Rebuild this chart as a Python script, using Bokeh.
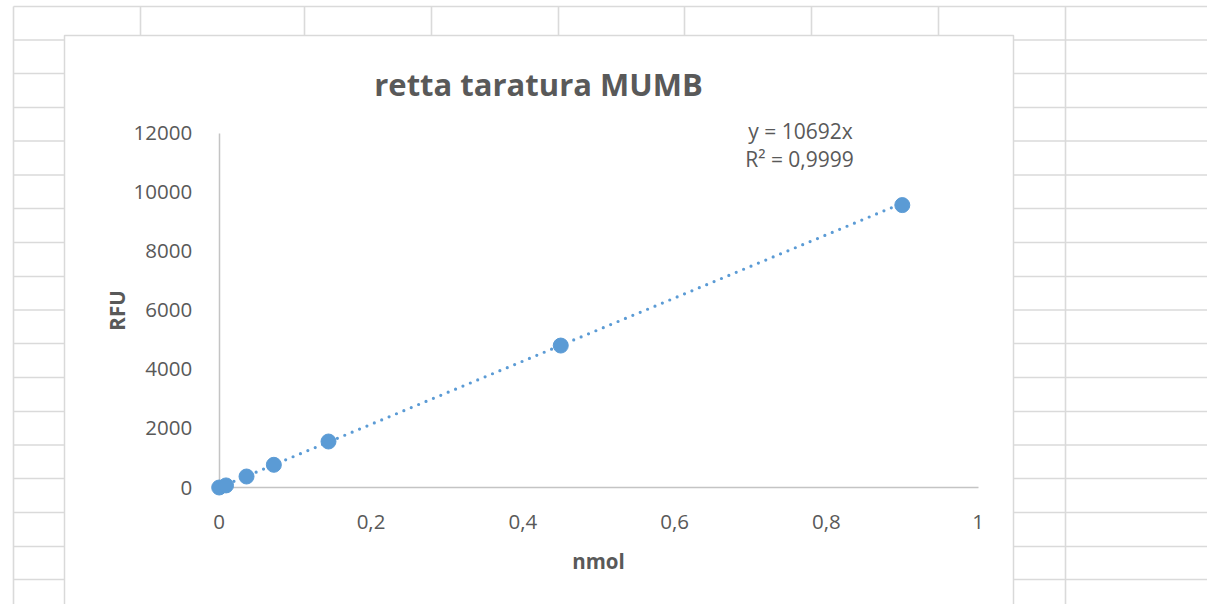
import numpy as np
from bokeh.plotting import figure
from bokeh.models import Range1d, FixedTicker, LinearAxis, CustomJSTickFormatter
from bokeh.core.properties import value
from bokeh.embed import file_html
from bokeh.resources import INLINE

# ---------------- data ----------------
title_text = "retta taratura MUMB"
x_label = "nmol"
y_label = "RFU"
nmol = [0, 0.009, 0.036, 0.072, 0.144, 0.45, 0.9]
rfu = [0, 70, 372, 768, 1557, 4805, 9560]
fit_slope = 10692
eq_lines = ["y = 10692x", "R² = 0,9999"]
x_ticks = [0, 0.2, 0.4, 0.6, 0.8, 1.0]
x_tick_labels = ["0", "0,2", "0,4", "0,6", "0,8", "1"]
y_ticks = [0, 2000, 4000, 6000, 8000, 10000, 12000]
y_tick_labels = ["0", "2000", "4000", "6000", "8000", "10000", "12000"]

# ---------------- layout (page pixels) ----------------
W, H = 1207, 604
PX0, PY0 = 0, 0
X0_PX, X1_PX = 218.7, 977.7      # where x=0 and x=1 sit
Y0_PX, YT_PX = 487.0, 132.5      # where y=0 and y=12000 sit
sx = (X1_PX - X0_PX) / 1.0
sy = (Y0_PX - YT_PX) / 12000.0

x_range = Range1d((PX0 - X0_PX) / sx, (PX0 + W - X0_PX) / sx)
y_range = Range1d((Y0_PX - (PY0 + H)) / sy, (Y0_PX - PY0) / sy)

p = figure(width=W, height=H, x_range=x_range, y_range=y_range,
           output_backend="svg", toolbar_location=None, min_border=0,
           x_axis_type=None, y_axis_type=None)
p.extra_x_ranges = {"px": Range1d(PX0, PX0 + W)}
p.extra_y_ranges = {"px": Range1d(PY0 + H, PY0)}
p.outline_line_color = None
p.background_fill_color = "white"
p.border_fill_color = "white"

TXT = "#595959"
GRID = "#dadada"
BLUE = "#5b9bd5"

# spreadsheet cell grid
col_x = [13, 140, 304, 431, 558, 684, 811, 938, 1065]
row_y = [6, 39.5, 73, 107, 140.5, 174.5, 208, 242, 276, 309.5, 343, 377,
         411, 444.5, 478, 512, 546, 579]
p.segment(x0=col_x, x1=col_x, y0=[6] * len(col_x), y1=[620] * len(col_x),
          line_color=GRID, line_width=1.6, x_range_name="px", y_range_name="px")
p.segment(x0=[13] * len(row_y), x1=[1220] * len(row_y), y0=row_y, y1=row_y,
          line_color=GRID, line_width=1.6, x_range_name="px", y_range_name="px")

# chart area
p.quad(left=[64], right=[1013], top=[35], bottom=[640], fill_color="white",
       line_color="#d9d9d9", line_width=1.5, x_range_name="px", y_range_name="px")

# axes
fmt_code = "const i = tv.indexOf(tick); return i >= 0 ? tl[i] : String(tick);"
xfmt = CustomJSTickFormatter(args=dict(tv=x_ticks, tl=x_tick_labels), code=fmt_code)
yfmt = CustomJSTickFormatter(args=dict(tv=y_ticks, tl=y_tick_labels), code=fmt_code)
xaxis = LinearAxis(fixed_location=0, bounds=(0, 1), ticker=FixedTicker(ticks=x_ticks),
                   formatter=xfmt)
yaxis = LinearAxis(fixed_location=0, bounds=(0, 12000), ticker=FixedTicker(ticks=y_ticks),
                   formatter=yfmt)
for ax in (xaxis, yaxis):
    ax.axis_line_color = "#c4c4c4"
    ax.axis_line_width = 1.5
    ax.major_tick_line_color = None
    ax.minor_tick_line_color = None
    ax.major_label_text_color = TXT
    ax.major_label_text_font = "Open Sans"
    ax.major_label_text_font_size = "20.5px"
xaxis.major_label_standoff = 21
yaxis.major_label_standoff = 21
p.add_layout(xaxis, "below")
p.add_layout(yaxis, "left")

# trendline
xmax = max(nmol)
p.line(x=[0, xmax], y=[0, fit_slope * xmax], line_color=BLUE, line_width=3.2,
       line_dash="0 8", line_cap="round")

# points
p.scatter(x=nmol, y=rfu, size=15, fill_color=BLUE, line_color=BLUE, level="overlay")

# texts
common = dict(text_color=TXT, text_align="center", text_baseline="middle",
              x_range_name="px", y_range_name="px")
p.text(x=[538], y=[83], text=[title_text], text_font=value("Open Sans"),
       text_font_style="bold", text_font_size="31px", **common)
p.text(x=[800, 799], y=[130, 158], text=eq_lines, text_font=value("Open Sans"),
       text_font_size="21px", **common)
p.text(x=[598], y=[560], text=[x_label], text_font=value("Open Sans"),
       text_font_style="bold", text_font_size="20.5px", **common)
p.text(x=[116], y=[310], text=[y_label], text_font=value("Open Sans"),
       text_font_style="bold", text_font_size="20.5px", angle=np.pi / 2, **common)

open("out.html", "w").write(file_html(p, INLINE))
